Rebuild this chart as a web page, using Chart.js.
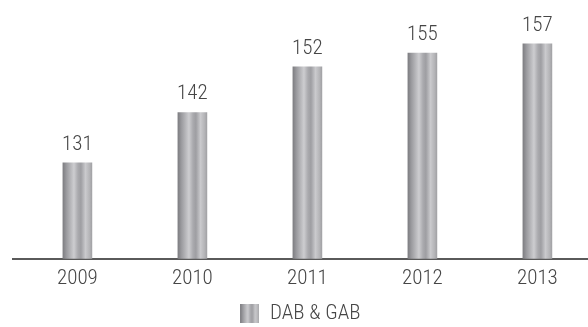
<!DOCTYPE html>
<html>
<head>
<meta charset="utf-8">
<script src="https://cdn.jsdelivr.net/npm/chart.js@4"></script>
<style>
  html, body { margin: 0; padding: 0; background: #fff; }
  #wrap { width: 588px; height: 327px; position: relative; }
</style>
</head>
<body>
<div id="wrap"><canvas id="c"></canvas></div>
<script>
// chart data
const years = [2009, 2010, 2011, 2012, 2013];
const values = [131, 142, 152, 155, 157];
const seriesName = 'DAB & GAB';

const FONT = '"Roboto Condensed", Roboto, "DejaVu Sans Condensed", sans-serif';
const TEXT = '#464646';
const BAR_W = 29;

// cylinder-like grey shading
const stops = [
  [0, '#7e7e82'], [0.12, '#9a9a9e'], [0.38, '#cdcdd0'], [0.52, '#aaaaae'],
  [0.62, '#9e9ea2'], [0.78, '#cacacd'], [0.92, '#b4b4b7'], [1, '#a2a2a5']
];

function shade(ctx, x0, x1) {
  const g = ctx.createLinearGradient(x0, 0, x1, 0);
  stops.forEach(s => g.addColorStop(s[0], s[1]));
  return g;
}

// small swatch for the legend
const swatch = document.createElement('canvas');
swatch.width = 19; swatch.height = 19;
(function () {
  const sc = swatch.getContext('2d');
  sc.fillStyle = shade(sc, 0, 19);
  sc.fillRect(0, 0, 19, 19);
})();

// value labels above bars
const valueLabels = {
  id: 'valueLabels',
  afterDatasetsDraw(chart) {
    const ctx = chart.ctx;
    const meta = chart.getDatasetMeta(0);
    ctx.save();
    ctx.font = '300 21px ' + FONT;
    ctx.fillStyle = TEXT;
    ctx.textAlign = 'center';
    ctx.textBaseline = 'alphabetic';
    meta.data.forEach((bar, i) => {
      ctx.fillText(String(values[i]), bar.x, bar.y - 13);
    });
    ctx.restore();
  }
};

new Chart(document.getElementById('c'), {
  type: 'bar',
  data: {
    datasets: [{
      label: seriesName,
      data: years.map((y, i) => ({ x: y, y: values[i] })),
      barThickness: BAR_W,
      backgroundColor(c) {
        const xs = c.chart.scales.x;
        if (!xs || c.raw == null) return '#aaa';
        const cx = xs.getPixelForValue(c.raw.x);
        return shade(c.chart.ctx, cx - BAR_W / 2, cx + BAR_W / 2);
      },
      borderWidth: 0
    }]
  },
  options: {
    responsive: true,
    maintainAspectRatio: false,
    animation: false,
    layout: { padding: { left: 13, right: 0, top: 0, bottom: -7 } },
    plugins: {
      tooltip: { enabled: false },
      legend: {
        position: 'bottom',
        labels: {
          font: { family: FONT, size: 21, weight: '300' },
          color: TEXT,
          usePointStyle: true,
          boxWidth: 19,
          boxHeight: 19,
          padding: 0,
          generateLabels(chart) {
            return [{
              text: seriesName,
              pointStyle: swatch,
              fillStyle: '#aaa',
              strokeStyle: 'transparent',
              lineWidth: 0,
              fontColor: TEXT,
              datasetIndex: 0
            }];
          }
        }
      }
    },
    scales: {
      x: {
        type: 'linear',
        offset: false,
        min: 2008.44,
        max: 2013.44,
        afterBuildTicks(scale) {
          scale.ticks = years.map(v => ({ value: v }));
        },
        afterFit(scale) {
          scale.height += 5;
        },
        ticks: {
          callback: v => String(v),
          font: { family: FONT, size: 21, weight: '300' },
          color: TEXT,
          padding: 7,
          maxRotation: 0,
          autoSkip: false
        },
        grid: { display: false, drawTicks: false },
        border: { display: true, color: '#5a5a5a', width: 2 }
      },
      y: {
        display: false,
        min: 110,
        max: 166.6
      }
    }
  },
  plugins: [valueLabels]
});
</script>
</body>
</html>
